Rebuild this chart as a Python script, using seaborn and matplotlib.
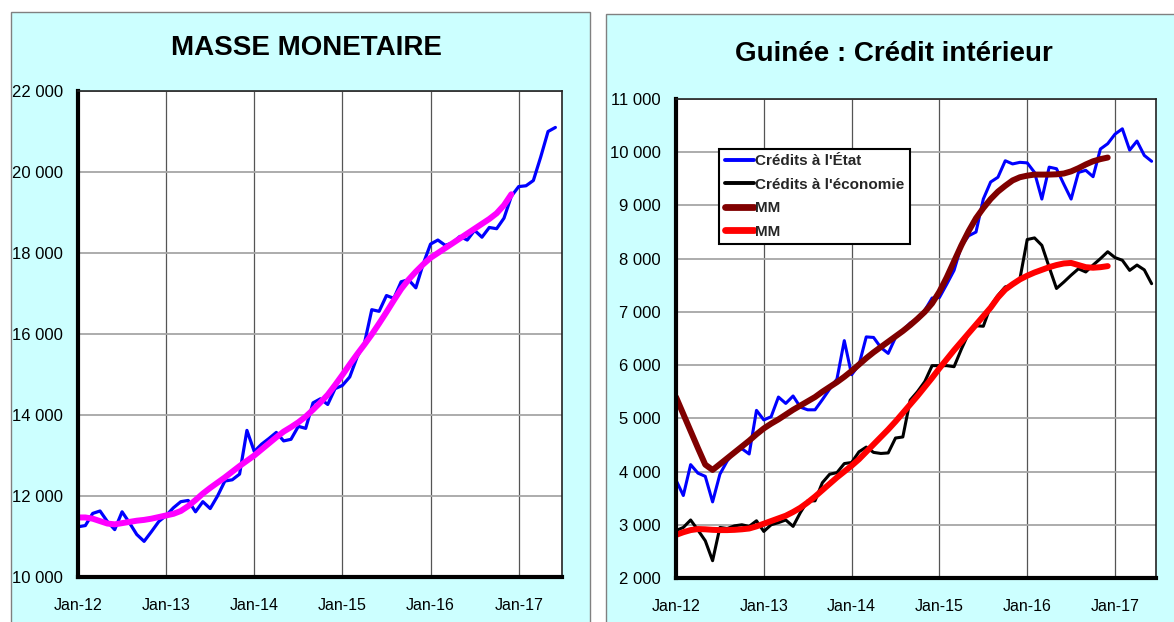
import matplotlib
matplotlib.use("Agg")
import matplotlib.pyplot as plt
import matplotlib.ticker as mticker
from matplotlib.lines import Line2D
from matplotlib.patches import Rectangle
import numpy as np
import seaborn as sns

# monthly data, Jan-12 .. Jun-17 (index 0 = Jan-12)
masse_monetaire = [
    11240, 11270, 11570, 11630, 11370, 11170, 11610, 11340, 11050, 10880,
    11120, 11370, 11520, 11710, 11860, 11890, 11610, 11860, 11690, 12000,
    12370, 12400, 12540, 13620, 13100, 13280, 13420, 13570, 13360, 13400,
    13720, 13670, 14300, 14400, 14260, 14650, 14730, 14940, 15430, 15770,
    16600, 16560, 16950, 16880, 17290, 17340, 17140, 17730, 18220, 18320,
    18190, 18250, 18410, 18320, 18560, 18390, 18630, 18600, 18860, 19400,
    19640, 19660, 19790, 20370, 21000, 21100,
]
masse_mm = [
    11470, 11470, 11440, 11380, 11320, 11300, 11330, 11360, 11390, 11410,
    11440, 11480, 11520, 11560, 11630, 11750, 11900, 12060, 12200, 12330,
    12460, 12600, 12740, 12870, 13000, 13150, 13300, 13450, 13590, 13700,
    13820, 13960, 14130, 14310, 14500, 14740, 14990, 15250, 15500, 15740,
    15990, 16260, 16540, 16830, 17110, 17340, 17540, 17720, 17880, 18000,
    18120, 18240, 18360, 18480, 18600, 18720, 18840, 18980, 19180, 19450,
]

credits_etat = [
    3840, 3550, 4130, 3970, 3910, 3430, 3950, 4200, 4370, 4430,
    4330, 5150, 4970, 5030, 5400, 5280, 5420, 5210, 5160, 5160,
    5350, 5550, 5740, 6460, 5820, 6000, 6530, 6520, 6330, 6220,
    6520, 6650, 6790, 6870, 7030, 7260, 7270, 7520, 7780, 8240,
    8430, 8500, 9120, 9440, 9530, 9840, 9780, 9810, 9800, 9620,
    9120, 9720, 9690, 9400, 9120, 9620, 9660, 9540, 10060, 10160,
    10340, 10440, 10040, 10210, 9940, 9830,
]
credits_economie = [
    2890, 2950, 3090, 2900, 2700, 2325, 2950, 2930, 2980, 3000,
    2970, 3075, 2875, 3000, 3040, 3090, 2970, 3230, 3450, 3450,
    3790, 3950, 3980, 4150, 4170, 4370, 4460, 4360, 4340, 4350,
    4630, 4650, 5340, 5500, 5690, 5990, 5990, 5990, 5970, 6300,
    6600, 6740, 6730, 7110, 7310, 7470, 7500, 7620, 8360, 8390,
    8250, 7840, 7440, 7560, 7690, 7810, 7750, 7880, 8000, 8130,
    8020, 7970, 7780, 7880, 7790, 7530,
]
mm_etat = [
    5400, 5080, 4760, 4440, 4130, 4030, 4140, 4250, 4360, 4470,
    4580, 4700, 4810, 4900, 4980, 5070, 5160, 5240, 5320, 5400,
    5500, 5590, 5680, 5780, 5890, 6010, 6130, 6240, 6340, 6440,
    6540, 6640, 6750, 6870, 7000, 7160, 7380, 7650, 7950, 8250,
    8520, 8760, 8950, 9120, 9260, 9370, 9470, 9530, 9560, 9580,
    9580, 9580, 9585, 9600, 9640, 9700, 9770, 9830, 9870, 9900,
]
mm_economie = [
    2810, 2860, 2900, 2920, 2915, 2905, 2900, 2900, 2905, 2915,
    2930, 2970, 3020, 3070, 3120, 3170, 3240, 3320, 3420, 3530,
    3650, 3770, 3890, 4000, 4110, 4230, 4370, 4510, 4650, 4790,
    4940, 5100, 5260, 5420, 5590, 5760, 5940, 6110, 6280, 6440,
    6600, 6760, 6920, 7080, 7270, 7420, 7520, 7610, 7680, 7740,
    7790, 7840, 7880, 7910, 7920, 7880, 7840, 7830, 7840, 7860,
]

year_labels = ["Jan-12", "Jan-13", "Jan-14", "Jan-15", "Jan-16", "Jan-17"]
legend_labels = ["Crédits à l'État", "Crédits à l'économie", "MM", "MM"]

CYAN = "#CCFFFF"

sns.set_style("white")
plt.rcParams["font.family"] = ["Liberation Sans", "DejaVu Sans"]


def space_thousands(v, pos):
    return f"{int(round(v)):,}".replace(",", " ")


def style_axes(ax, ylim, ystep, xmax):
    ax.set_facecolor("white")
    ax.set_xlim(0, xmax)
    ax.set_ylim(*ylim)
    ax.set_yticks(np.arange(ylim[0], ylim[1] + 1, ystep))
    ax.yaxis.set_major_formatter(mticker.FuncFormatter(space_thousands))
    ax.set_xticks(np.arange(len(year_labels)) * 12)
    ax.set_xticklabels(year_labels)
    ax.set_xlabel("")
    ax.set_ylabel("")
    ax.grid(axis="y", color="#a6a6a6", linewidth=1.3)
    ax.grid(axis="x", color="#555555", linewidth=0.9)
    ax.set_axisbelow(True)
    for side in ("left", "bottom"):
        ax.spines[side].set_linewidth(3)
        ax.spines[side].set_color("black")
    for side in ("top", "right"):
        ax.spines[side].set_linewidth(1.2)
        ax.spines[side].set_color("#222222")
        ax.spines[side].set_visible(True)
    ax.tick_params(axis="both", direction="out", length=4, width=2.5,
                   color="black", labelcolor="black")
    ax.tick_params(axis="y", pad=7, labelsize=12)
    ax.tick_params(axis="x", pad=11, labelsize=11.5)


fig = plt.figure(figsize=(11.74, 6.22), dpi=100, facecolor="white")

# cyan chart frames behind the axes
fig.patches.append(Rectangle((11 / 1174, -0.02), 579 / 1174, 1.0 - 12 / 622 + 0.02,
                             transform=fig.transFigure, facecolor=CYAN,
                             edgecolor="#808080", linewidth=1, zorder=-5))
fig.patches.append(Rectangle((606 / 1174, -0.02), 0.5, 1.0 - 14 / 622 + 0.02,
                             transform=fig.transFigure, facecolor=CYAN,
                             edgecolor="#808080", linewidth=1, zorder=-5))

ax1 = fig.add_axes([78 / 1174, 1 - 577 / 622, 484 / 1174, 486 / 622])
ax2 = fig.add_axes([676 / 1174, 1 - 578 / 622, 480 / 1174, 479 / 622])

# left: masse monetaire
sns.lineplot(x=np.arange(len(masse_monetaire)), y=masse_monetaire, ax=ax1,
             color="#0000FF", linewidth=2.3)
sns.lineplot(x=np.arange(len(masse_mm)), y=masse_mm, ax=ax1,
             color="#FF00FF", linewidth=4.3, solid_capstyle="round")
style_axes(ax1, (10000, 22000), 2000, 65.9)
fig.text(306 / 1174, 1 - 48 / 622, "MASSE MONETAIRE", ha="center", va="center",
         fontsize=20, fontweight="bold", color="black")

# right: credit interieur
series = [
    (credits_etat, "#0000FF", 2.2),
    (credits_economie, "black", 2.2),
    (mm_etat, "#800000", 4.3),
    (mm_economie, "#FF0000", 4.3),
]
for values, color, lw in series:
    sns.lineplot(x=np.arange(len(values)), y=values, ax=ax2,
                 color=color, linewidth=lw, solid_capstyle="round")
style_axes(ax2, (2000, 11000), 1000, 65.6)
fig.text(894 / 1174, 1 - 54 / 622, "Guinée : Crédit intérieur", ha="center",
         va="center", fontsize=20, fontweight="bold", color="black")

handles = [Line2D([], [], color=c, linewidth=lw + 0.6) for _, c, lw in series]
leg = ax2.legend(handles, legend_labels, loc="upper left",
                 bbox_to_anchor=(0.09, 0.896), borderaxespad=0,
                 frameon=True, fancybox=False, framealpha=1,
                 edgecolor="black", handlelength=1.9, handletextpad=0.1,
                 labelspacing=0.62, borderpad=0.35,
                 prop={"weight": "bold", "size": 11})
leg.get_frame().set_linewidth(1.5)

fig.savefig("out.png", dpi=100, facecolor="white")
